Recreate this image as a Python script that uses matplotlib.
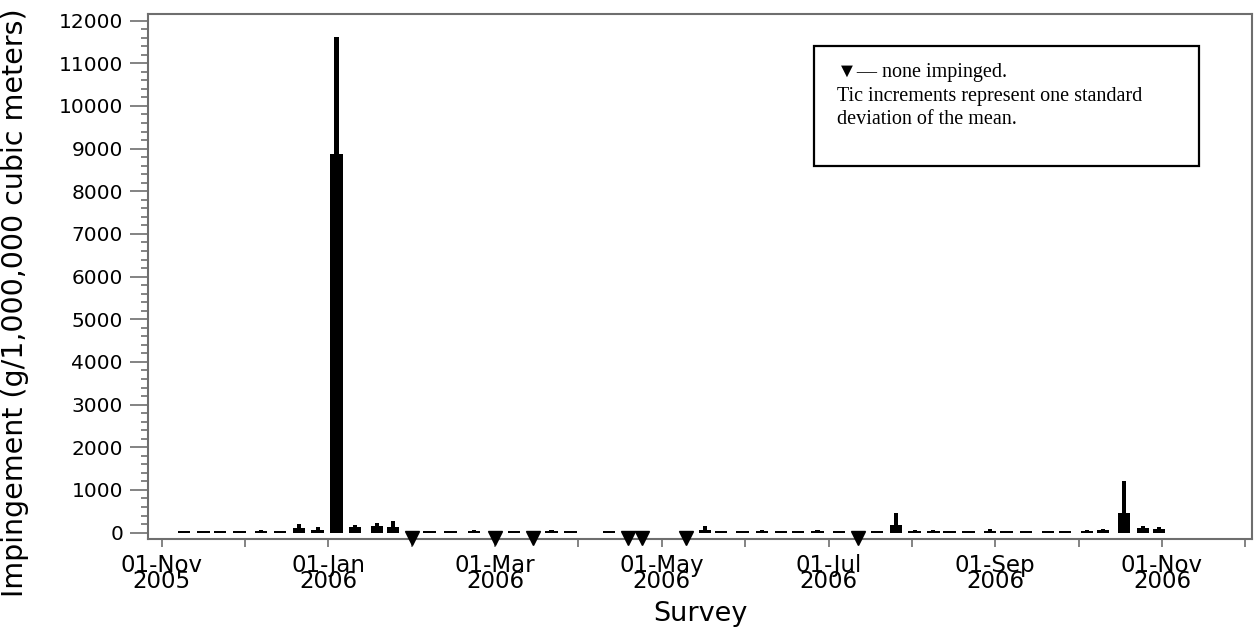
import matplotlib
matplotlib.use("Agg")
import matplotlib.pyplot as plt
from matplotlib.patches import Rectangle
import pandas as pd

# ---------------- data ----------------
survey_dates = [
    "2005-11-09", "2005-11-16", "2005-11-22", "2005-11-29", "2005-12-07", "2005-12-14",
    "2005-12-21", "2005-12-28", "2006-01-04", "2006-01-11", "2006-01-19", "2006-01-25",
    "2006-02-01", "2006-02-07", "2006-02-14", "2006-02-22", "2006-03-01", "2006-03-08",
    "2006-03-15", "2006-03-22", "2006-03-29", "2006-04-12", "2006-04-19", "2006-04-24",
    "2006-05-10", "2006-05-17", "2006-05-23", "2006-05-31", "2006-06-07", "2006-06-14",
    "2006-06-20", "2006-06-27", "2006-07-05", "2006-07-12", "2006-07-19", "2006-07-26",
    "2006-08-02", "2006-08-09", "2006-08-15", "2006-08-22", "2006-08-30", "2006-09-05",
    "2006-09-12", "2006-09-20", "2006-09-26", "2006-10-04", "2006-10-10", "2006-10-18",
    "2006-10-25", "2006-10-31",
]
mean_impingement = [
    40, 40, 40, 40, 45, 40,
    115, 60, 8875, 130, 145, 140,
    0, 35, 35, 40, 0, 35,
    0, 40, 40, 35, 0, 0,
    0, 70, 35, 35, 40, 35,
    35, 45, 35, 0, 35, 170,
    45, 40, 35, 35, 45, 35,
    35, 35, 35, 45, 55, 450,
    100, 85,
]
std_dev = [
    0, 0, 0, 0, 20, 0,
    80, 60, 2745, 40, 80, 130,
    0, 0, 0, 15, 0, 0,
    0, 10, 0, 0, 0, 0,
    0, 75, 0, 0, 20, 0,
    0, 25, 0, 0, 0, 300,
    25, 15, 0, 0, 30, 0,
    0, 0, 0, 20, 30, 770,
    50, 40,
]
month_ticks = ["01-Nov\n2005", "", "01-Jan\n2006", "", "01-Mar\n2006", "",
               "01-May\n2006", "", "01-Jul\n2006", "", "01-Sep\n2006", "",
               "01-Nov\n2006", ""]
y_ticks = list(range(0, 12001, 1000))
legend_text = "\u25BC\u2014 none impinged.\nTic increments represent one standard\ndeviation of the mean."


def month_pos(d):
    ts = pd.Timestamp(d)
    return (ts.year - 2005) * 12 + ts.month - 11 + (ts.day - 1) / ts.days_in_month


pos = [month_pos(d) for d in survey_dates]
upper = [m + s for m, s in zip(mean_impingement, std_dev)]

# ---------------- figure ----------------
plt.rcParams['font.family'] = ['DejaVu Sans']
fig = plt.figure(figsize=(12.57, 6.27), dpi=100)
ax = fig.add_axes([148 / 1257, 1 - 539 / 627, 1104 / 1257, 525 / 627])

ax.bar(pos, mean_impingement, width=0.148, color="black", zorder=3)
ax.bar(pos, upper, width=0.05, color="black", zorder=3)

ymin, ymax = -150, 12154
zero_pos = [p for p, m in zip(pos, mean_impingement) if m == 0]
ax.plot(zero_pos, [ymin + 12] * len(zero_pos), linestyle="none", marker="v",
        color="black", markersize=9.5, clip_on=False, zorder=6)

ax.set_xlim(-0.164, 13.08)
ax.set_ylim(ymin, ymax)

ax.set_xticks(range(len(month_ticks)))
ax.set_xticklabels(month_ticks, fontsize=16.5, linespacing=0.62)
ax.set_yticks(y_ticks)
ax.set_yticklabels([str(v) for v in y_ticks], fontsize=14.5)
ax.set_yticks(range(0, 12001, 200), minor=True)

grey = "#6e6e6e"
for s in ax.spines.values():
    s.set_color(grey)
    s.set_linewidth(1.5)
ax.tick_params(axis="x", which="major", direction="out", length=5.5, width=1.2,
               color=grey, pad=5)
ax.tick_params(axis="y", which="major", direction="out", length=13, width=1.2,
               color=grey, pad=5)
ax.tick_params(axis="y", which="minor", direction="out", length=5, width=1.2,
               color=grey)

ax.set_xlabel("Survey", fontsize=19.5)
ax.xaxis.set_label_coords(0.5, (539 - 601) / 525)
ax.set_ylabel("Impingement (g/1,000,000 cubic meters)", fontsize=20.5)
ax.yaxis.set_label_coords(-0.108, 0.45)

# annotation box
ax.add_patch(Rectangle((0.6033, 0.7105), 0.3487, 0.2285, transform=ax.transAxes,
                       fill=False, edgecolor="black", linewidth=1.6, zorder=7))
ax.text(0.6238, 0.906, legend_text, transform=ax.transAxes, ha="left", va="top",
        fontsize=14.5, family=["Liberation Serif", "DejaVu Serif"], linespacing=1.3,
        zorder=8)

fig.savefig("out.png", dpi=100)
